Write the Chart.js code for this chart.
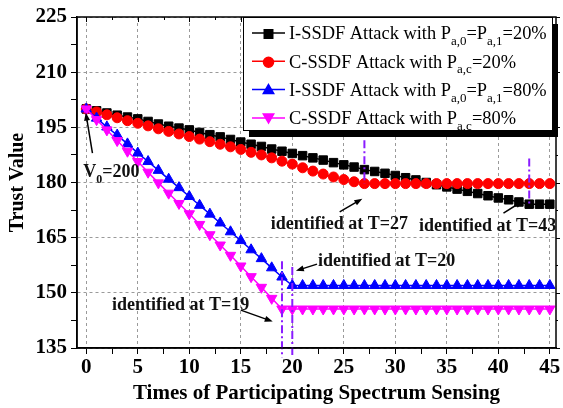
<!DOCTYPE html>
<html>
<head>
<meta charset="utf-8">
<script src="https://cdn.jsdelivr.net/npm/chart.js@4.4.1/dist/chart.umd.min.js"></script>
<style>
  html, body { margin: 0; padding: 0; background: #fff; }
  canvas { display: block; }
</style>
</head>
<body>
<canvas id="trustChart" width="563" height="408"></canvas>
<script>
// Times of participating spectrum sensing (x values)
const times = [0, 1, 2, 3, 4, 5, 6, 7, 8, 9, 10, 11, 12, 13, 14, 15, 16, 17, 18, 19, 20, 21, 22,
  23, 24, 25, 26, 27, 28, 29, 30, 31, 32, 33, 34, 35, 36, 37, 38, 39, 40, 41, 42, 43, 44, 45];

// trust values
const iSsdf20 = [200.0, 199.5, 198.9, 198.3, 197.8, 197.3, 196.6, 195.9, 195.3, 194.8, 194.3, 193.6,
  193.0, 192.4, 191.7, 191.0, 190.4, 189.8, 189.1, 188.5, 187.9, 187.3, 186.7, 186.1, 185.4, 184.8,
  184.2, 183.5, 183.0, 182.5, 181.9, 181.3, 180.7, 180.0, 179.4, 178.8, 178.2, 177.6, 177.0, 176.4,
  175.8, 175.3, 174.7, 174.1, 174.1, 174.1];
const cSsdf20 = [200.0, 199.2, 198.4, 197.6, 196.8, 196.1, 195.4, 194.6, 193.9, 193.2, 192.5, 191.8,
  191.1, 190.4, 189.7, 189.0, 188.2, 187.5, 186.7, 185.8, 185.0, 184.0, 183.1, 182.3, 181.5, 180.8,
  180.2, 179.7, 179.7, 179.7, 179.7, 179.7, 179.7, 179.7, 179.7, 179.7, 179.7, 179.7, 179.7, 179.7,
  179.7, 179.7, 179.7, 179.7, 179.7, 179.7];
const iSsdf80 = [200.0, 197.5, 195.1, 192.9, 190.5, 188.0, 185.7, 183.3, 180.9, 178.6, 176.2, 173.8,
  171.4, 169.0, 166.6, 164.2, 161.7, 159.3, 156.8, 154.3, 152.0, 152.0, 152.0, 152.0, 152.0, 152.0,
  152.0, 152.0, 152.0, 152.0, 152.0, 152.0, 152.0, 152.0, 152.0, 152.0, 152.0, 152.0, 152.0, 152.0,
  152.0, 152.0, 152.0, 152.0, 152.0, 152.0];
const cSsdf80 = [200.0, 197.1, 194.3, 191.4, 188.5, 185.7, 182.8, 179.9, 177.1, 174.3, 171.5, 168.6,
  165.8, 163.0, 160.2, 157.3, 154.4, 151.5, 148.5, 145.6, 145.6, 145.6, 145.6, 145.6, 145.6, 145.6,
  145.6, 145.6, 145.6, 145.6, 145.6, 145.6, 145.6, 145.6, 145.6, 145.6, 145.6, 145.6, 145.6, 145.6,
  145.6, 145.6, 145.6, 145.6, 145.6, 145.6];

// identification markers (dash-dot verticals): x, y from, y to
const markLines = [
  [19, 158.6, 132.4],
  [20, 157.0, 132.4],
  [27, 191.5, 179.7],
  [43, 186.5, 174.1]
];

// tick values
const xTicks = [0, 2.5, 5, 7.5, 10, 12.5, 15, 17.5, 20, 22.5, 25, 27.5, 30, 32.5, 35, 37.5, 40, 42.5, 45];
const yTicks = [135, 142.5, 150, 157.5, 165, 172.5, 180, 187.5, 195, 202.5, 210, 217.5, 225];

// annotation texts: parts [text, isSubscript], left x, baseline y (data units)
const notes = [
  { parts: [['V', 0], ['0', 1], ['=200', 0]], x: -0.3, y: 181.5 },
  { parts: [['identified at T=27', 0]], x: 17.9, y: 167.3 },
  { parts: [['identified at T=43', 0]], x: 32.3, y: 166.8 },
  { parts: [['identified at T=20', 0]], x: 22.5, y: 157.3 },
  { parts: [['identified at T=19', 0]], x: 2.5, y: 145.4 }
];
// arrows: from (x1,y1) to head (x2,y2)
const arrows = [
  [0.6, 188.0, -0.05, 199.0],
  [24.6, 172.0, 26.8, 175.6],
  [40.5, 171.7, 42.4, 175.0],
  [22.4, 157.8, 20.35, 156.0],
  [15.0, 145.3, 18.1, 142.2]
];

const legendRows = [
  { color: '#000000', style: 'rect', rot: 0, parts: [['I-SSDF Attack with P', 0], ['a,0', 1], ['=P', 0], ['a,1', 1], ['=20%', 0]] },
  { color: '#ff0000', style: 'circle', rot: 0, parts: [['C-SSDF Attack with P', 0], ['a,c', 1], ['=20%', 0]] },
  { color: '#0000ff', style: 'triangle', rot: 0, parts: [['I-SSDF Attack with P', 0], ['a,0', 1], ['=P', 0], ['a,1', 1], ['=80%', 0]] },
  { color: '#ff00ff', style: 'triangle', rot: 180, parts: [['C-SSDF Attack with P', 0], ['a,c', 1], ['=80%', 0]] }
];

const SERIF = '"Liberation Serif", "Times New Roman", serif';

function pts(ys) {
  return times.map((t, i) => ({ x: t, y: ys[i] }));
}

function drawRich(ctx, parts, x, y, size, weight) {
  for (const [txt, sub] of parts) {
    const s = sub ? Math.round(size * 0.68) : size;
    ctx.font = weight + ' ' + s + 'px ' + SERIF;
    ctx.fillText(txt, x, sub ? y + size * 0.32 : y);
    x += ctx.measureText(txt).width;
  }
}

function drawArrow(ctx, x1, y1, x2, y2) {
  const ang = Math.atan2(y2 - y1, x2 - x1);
  const hl = 8, hw = 3;
  ctx.beginPath();
  ctx.moveTo(x1, y1);
  ctx.lineTo(x2 - Math.cos(ang) * hl * 0.8, y2 - Math.sin(ang) * hl * 0.8);
  ctx.stroke();
  ctx.beginPath();
  ctx.moveTo(x2, y2);
  ctx.lineTo(x2 - Math.cos(ang) * hl - Math.sin(ang) * hw, y2 - Math.sin(ang) * hl + Math.cos(ang) * hw);
  ctx.lineTo(x2 - Math.cos(ang) * hl + Math.sin(ang) * hw, y2 - Math.sin(ang) * hl - Math.cos(ang) * hw);
  ctx.closePath();
  ctx.fill();
}

const extrasPlugin = {
  id: 'extras',
  afterDraw(chart) {
    const ctx = chart.ctx;
    const a = chart.chartArea;
    const xs = chart.scales.x, ys = chart.scales.y;
    ctx.save();

    // frame
    ctx.strokeStyle = '#000';
    ctx.lineWidth = 1.5;
    ctx.strokeRect(a.left, a.top, a.right - a.left, a.bottom - a.top);

    // top inner ticks and right outer ticks
    ctx.lineWidth = 1;
    ctx.beginPath();
    xTicks.forEach(v => {
      const px = Math.round(xs.getPixelForValue(v)) + 0.5;
      ctx.moveTo(px, a.top);
      ctx.lineTo(px, a.top + (v % 5 === 0 ? 5 : 3));
    });
    yTicks.forEach(v => {
      const py = Math.round(ys.getPixelForValue(v)) + 0.5;
      ctx.moveTo(a.right, py);
      ctx.lineTo(a.right + (v % 15 === 0 ? 4 : 2), py);
    });
    ctx.stroke();

    // arrows
    ctx.strokeStyle = '#000';
    ctx.fillStyle = '#000';
    ctx.lineWidth = 1.5;
    arrows.forEach(([x1, y1, x2, y2]) => {
      drawArrow(ctx, xs.getPixelForValue(x1), ys.getPixelForValue(y1),
        xs.getPixelForValue(x2), ys.getPixelForValue(y2));
    });

    // annotation texts
    ctx.textBaseline = 'alphabetic';
    ctx.textAlign = 'left';
    ctx.fillStyle = '#111';
    notes.forEach(n => {
      drawRich(ctx, n.parts, xs.getPixelForValue(n.x), ys.getPixelForValue(n.y), 18, 'bold');
    });

    // legend box with shadow
    const bx = a.left + 166, by = a.top, bw = 309, bh = 113;
    ctx.fillStyle = '#000';
    ctx.fillRect(bx + 6, by + 7, bw, bh);
    ctx.fillStyle = '#fff';
    ctx.fillRect(bx, by, bw, bh);
    ctx.strokeStyle = '#000';
    ctx.lineWidth = 1;
    ctx.strokeRect(bx + 0.5, by + 0.5, bw, bh);

    legendRows.forEach((row, i) => {
      const cy = by + 16 + i * 28.3;
      ctx.strokeStyle = row.color;
      ctx.lineWidth = 1.5;
      ctx.beginPath();
      ctx.moveTo(bx + 9, cy);
      ctx.lineTo(bx + 42, cy);
      ctx.stroke();
      ctx.fillStyle = row.color;
      Chart.helpers.drawPoint(ctx, {
        pointStyle: row.style, radius: row.style === 'circle' ? 5 : 6,
        rotation: row.rot, borderWidth: 1
      }, bx + 25.5, cy + (row.rot ? -1 : 1));
      ctx.fillStyle = '#000';
      drawRich(ctx, row.parts, bx + 46, cy + 6.3, 18.4, 'normal');
    });

    ctx.restore();
  }
};

function series(label, ys, color, style, rot, order) {
  return {
    label: label,
    data: pts(ys),
    borderColor: color,
    backgroundColor: color,
    pointBackgroundColor: color,
    pointBorderColor: color,
    borderWidth: 1.5,
    pointStyle: style,
    pointRotation: rot,
    pointRadius: style === 'circle' ? 5 : 6,
    pointBorderWidth: 1,
    order: order
  };
}

const datasets = [
  series('I-SSDF 20%', iSsdf20, '#000000', 'rect', 0, 4),
  series('C-SSDF 20%', cSsdf20, '#ff0000', 'circle', 0, 3),
  series('I-SSDF 80%', iSsdf80, '#0000ff', 'triangle', 0, 2),
  series('C-SSDF 80%', cSsdf80, '#ff00ff', 'triangle', 180, 1)
];
markLines.forEach(([x, y1, y2]) => {
  datasets.push({
    label: 'mark',
    data: [{ x: x, y: y1 }, { x: x, y: y2 }],
    borderColor: '#8a1cff',
    borderWidth: 2,
    borderDash: [8, 3, 2, 3],
    pointRadius: 0,
    clip: false,
    order: 0
  });
});

new Chart(document.getElementById('trustChart'), {
  type: 'line',
  data: { datasets: datasets },
  options: {
    responsive: false,
    animation: false,
    devicePixelRatio: 1,
    layout: { padding: { top: 17, right: 5, left: 0, bottom: 0 } },
    plugins: { legend: { display: false }, tooltip: { enabled: false } },
    scales: {
      x: {
        type: 'linear',
        min: -0.9,
        max: 45.6,
        afterBuildTicks: axis => { axis.ticks = xTicks.map(v => ({ value: v })); },
        afterFit: axis => { axis.height = 60; },
        grid: {
          color: c => (c.tick && c.tick.value % 5 === 0 ? '#9a9a9a' : 'rgba(0,0,0,0)'),
          lineWidth: 1,
          tickColor: '#000',
          tickLength: 6,
          tickWidth: 1
        },
        border: { display: true, color: '#000', width: 1.5, dash: [3, 3] },
        ticks: {
          autoSkip: false,
          maxRotation: 0,
          padding: 1,
          color: '#000',
          font: { family: SERIF, size: 21, weight: 'bold' },
          callback: v => (v % 5 === 0 ? String(v) : '')
        },
        title: {
          display: true,
          text: 'Times of Participating Spectrum Sensing',
          color: '#000',
          font: { family: SERIF, size: 21, weight: 'bold' },
          padding: { top: 0, bottom: 2 }
        }
      },
      y: {
        type: 'linear',
        min: 135,
        max: 225,
        afterBuildTicks: axis => { axis.ticks = yTicks.map(v => ({ value: v })); },
        afterFit: axis => { axis.width = 77; },
        grid: {
          color: c => (c.tick && c.tick.value % 15 === 0 ? '#9a9a9a' : 'rgba(0,0,0,0)'),
          lineWidth: 1,
          tickColor: '#000',
          tickLength: 6,
          tickWidth: 1
        },
        border: { display: true, color: '#000', width: 1.5, dash: [3, 3] },
        ticks: {
          autoSkip: false,
          padding: 4,
          color: '#000',
          font: { family: SERIF, size: 21, weight: 'bold' },
          callback: v => (v % 15 === 0 ? String(v) : '')
        },
        title: {
          display: true,
          text: 'Trust Value',
          color: '#000',
          font: { family: SERIF, size: 20, weight: 'bold' },
          padding: { top: 6, bottom: 0 }
        }
      }
    }
  },
  plugins: [extrasPlugin]
});
</script>
</body>
</html>
